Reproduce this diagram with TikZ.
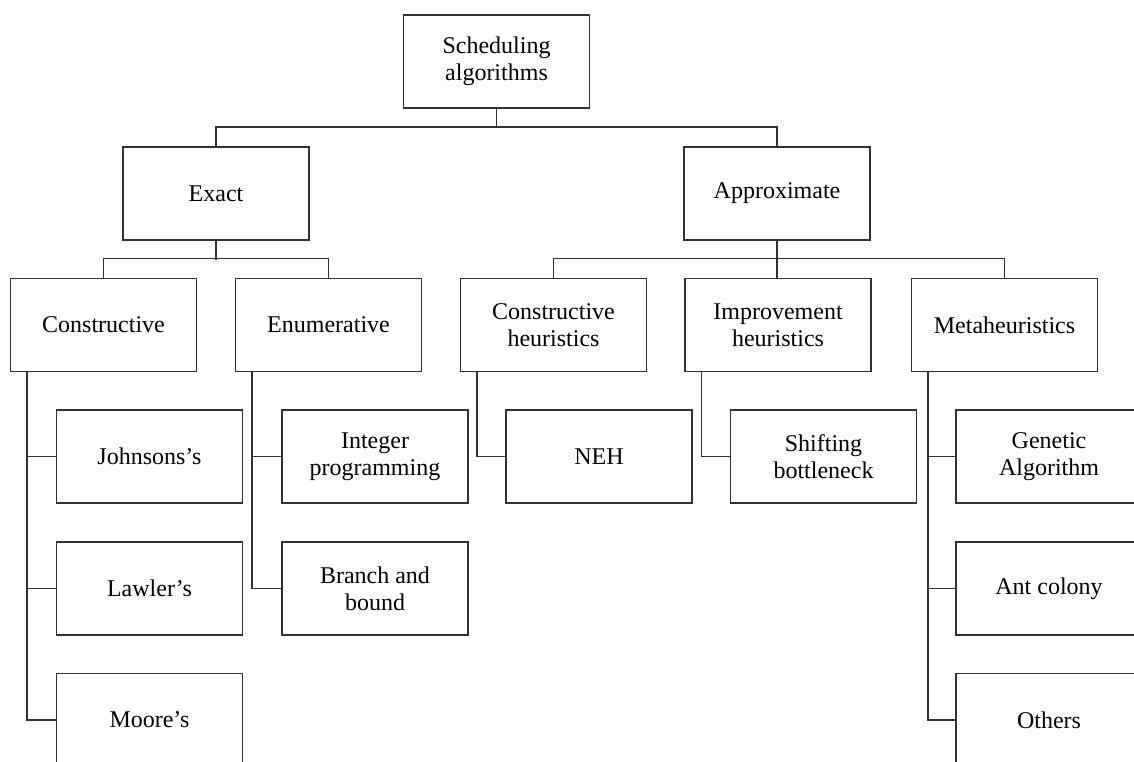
\documentclass[tikz,border=0pt]{standalone}
\usepackage{fontspec}
\setmainfont{Liberation Serif}
\tikzset{every picture/.style={line width=1.3pt}}
\tikzset{
	catbox/.style={draw={rgb, 255:red, 51; green, 51; blue, 51 }, fill=white, minimum width=139.5pt, minimum height=69.75pt, inner sep=0pt, align=center, font=\fontsize{18}{20.5}\selectfont},
	treeline/.style={draw={rgb, 255:red, 51; green, 51; blue, 51 }}
}
\begin{document}
\begin{tikzpicture}[x=0.75pt,y=0.75pt,yscale=-1,xscale=1]
	\useasboundingbox (0,0) rectangle (1134,762);
	\clip (0,0) rectangle (1134,762);

	%Shape: Rectangle [root]
	\node [catbox] (root) at (496.5,61.5) {Scheduling\\algorithms};
	%Shape: Rectangle [level 1]
	\node [catbox] (exact) at (216,193.5) {Exact};
	\node [catbox] (approx) at (777,193.5) {Approximate};
	%Shape: Rectangle [level 2]
	\node [catbox] (cons) at (103.5,325) {Constructive};
	\node [catbox] (enum) at (328.5,325) {Enumerative};
	\node [catbox] (conheur) at (553.5,325) {Constructive\\heuristics};
	\node [catbox] (impheur) at (778,325) {Improvement\\heuristics};
	\node [catbox] (meta) at (1004.5,325) {Metaheuristics};
	%Shape: Rectangle [leaves]
	\node [catbox] (johnson) at (149.5,456.5) {Johnsons's};
	\node [catbox] (lawler) at (149.5,588.5) {Lawler's};
	\node [catbox] (moore) at (149.5,720) {Moore's};
	\node [catbox] (intprog) at (375,456.5) {Integer\\programming};
	\node [catbox] (bnb) at (375,588.5) {Branch and\\bound};
	\node [catbox] (neh) at (599,456.5) {NEH};
	\node [catbox] (shift) at (823.5,456.5) {Shifting\\bottleneck};
	\node [catbox] (genetic) at (1049,456.5) {Genetic\\Algorithm};
	\node [catbox] (ant) at (1049,588.5) {Ant colony};
	\node [catbox] (others) at (1049,720) {Others};

	% Connectors root
	\coordinate (rbar) at (496.5,127);
	\draw [treeline] (root.south) -- (rbar);
	\draw [treeline] (exact.north) |- (rbar) -| (approx.north);
	% Connectors exact
	\draw [treeline] (exact.south) -- ++(0,19);
	\draw [treeline] (cons.north) -- ++(0,-19) -| (enum.north);
	% Connectors approximate
	\draw [treeline] (approx.south) -- (approx.south |- impheur.north);
	\draw [treeline] (conheur.north) -- ++(0,-19) -| (meta.north);
	% Connectors leaves
	\draw [treeline] ([xshift=13pt]cons.south west) |- (johnson.west);
	\draw [treeline] ([xshift=13pt]cons.south west) |- (lawler.west);
	\draw [treeline] ([xshift=13pt]cons.south west) |- (moore.west);
	\draw [treeline] ([xshift=13pt]enum.south west) |- (intprog.west);
	\draw [treeline] ([xshift=13pt]enum.south west) |- (bnb.west);
	\draw [treeline] ([xshift=13pt]conheur.south west) |- (neh.west);
	\draw [treeline] ([xshift=13pt]impheur.south west) |- (shift.west);
	\draw [treeline] ([xshift=13pt]meta.south west) |- (genetic.west);
	\draw [treeline] ([xshift=13pt]meta.south west) |- (ant.west);
	\draw [treeline] ([xshift=13pt]meta.south west) |- (others.west);

\end{tikzpicture}
\end{document}
